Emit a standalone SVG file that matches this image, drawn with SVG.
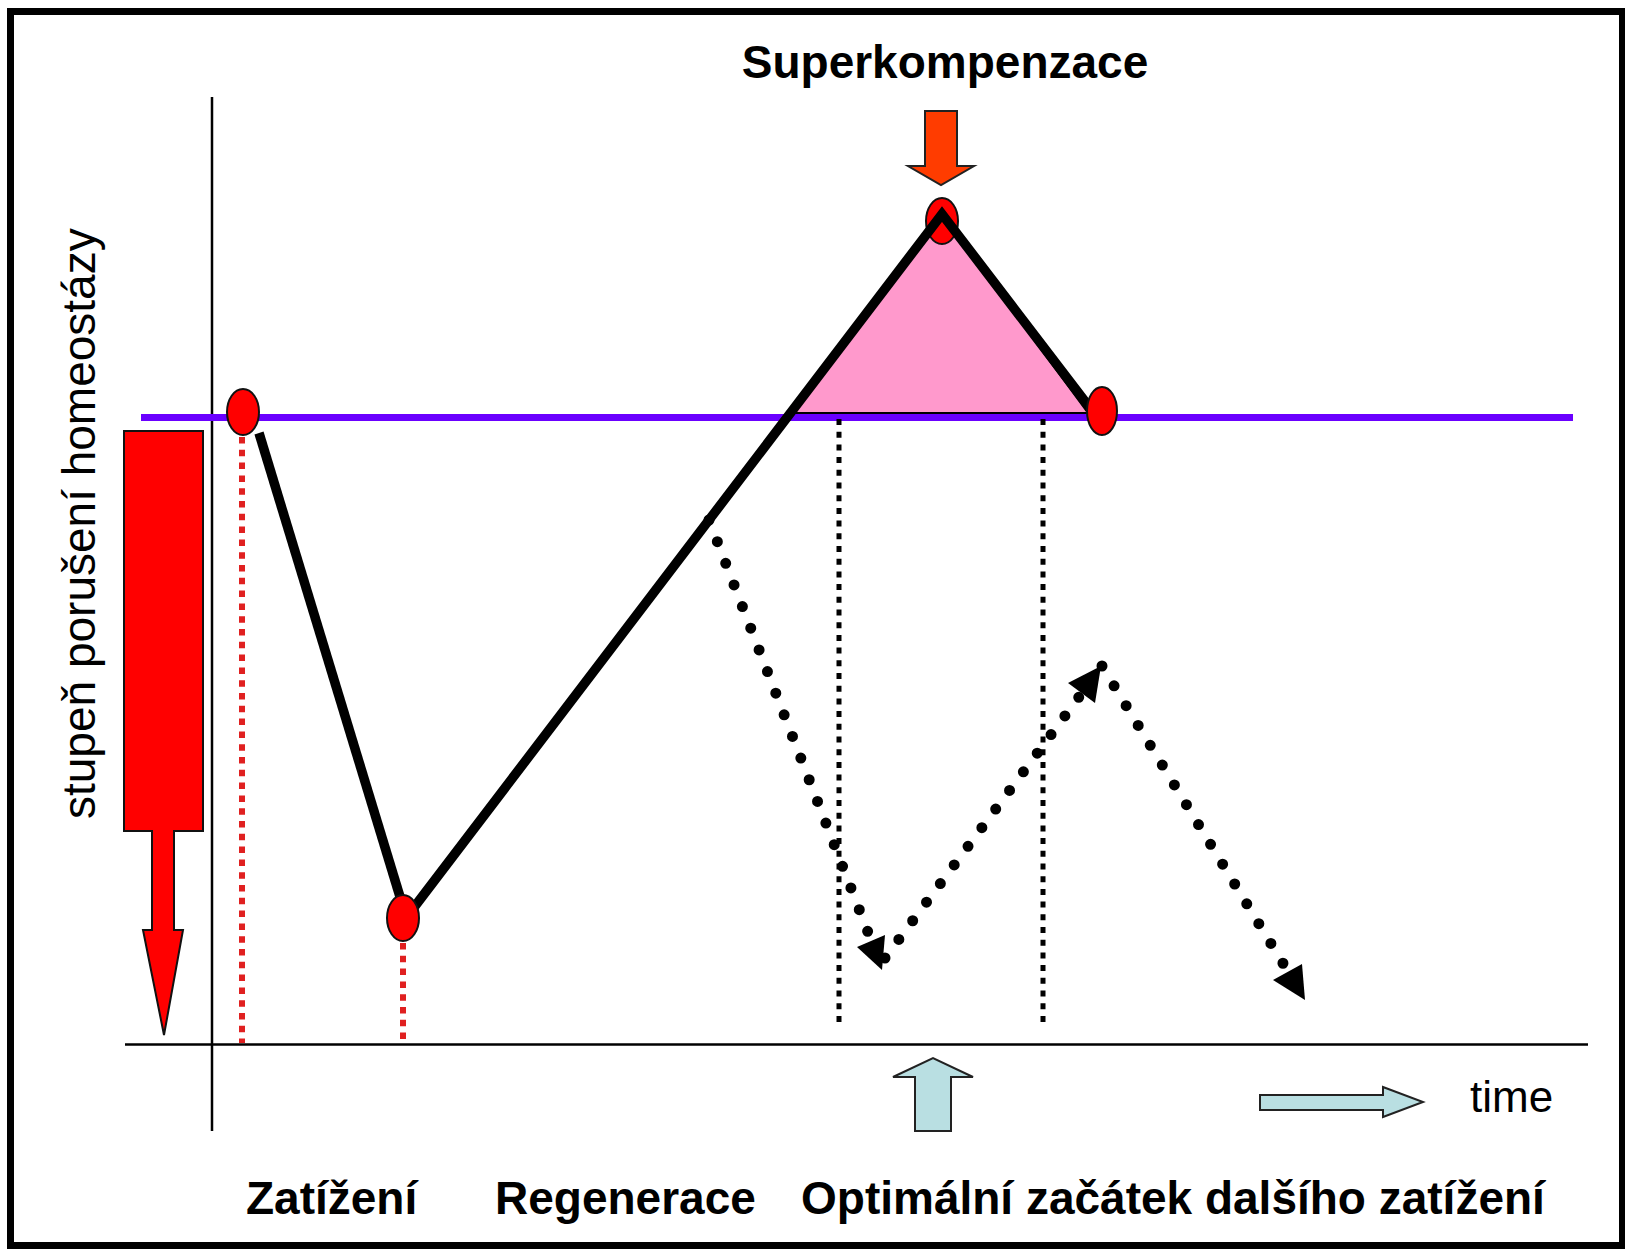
<svg xmlns="http://www.w3.org/2000/svg" width="1625" height="1249" viewBox="0 0 1625 1249">
<defs>
<style>
.lbl{font-family:"Liberation Sans",Arial,sans-serif;font-weight:bold;font-size:46px;fill:#000}
.reg{font-family:"Liberation Sans",Arial,sans-serif;font-size:46px;fill:#000}
.dot{fill:#ff0000;stroke:#111;stroke-width:2}
.thick{stroke:#000;stroke-width:9.5;fill:none}
.reddash{stroke:#e02020;stroke-width:6;stroke-dasharray:6.5 6.3;fill:none}
.blkdash{stroke:#000;stroke-width:5;stroke-dasharray:6 6.7;fill:none}
.dots{stroke:#000;stroke-width:11;stroke-linecap:round;stroke-dasharray:0 23.2;fill:none}
.cyan{fill:#b9dfe2;stroke:#222;stroke-width:2}
</style>
</defs>
<rect x="0" y="0" width="1625" height="1249" fill="#fff"/>
<rect id="frame" x="10.5" y="11.5" width="1612" height="1234" fill="none" stroke="#000" stroke-width="7"/>

<g id="axes" stroke="#000" stroke-width="2.5">
<line x1="212" y1="97" x2="212" y2="1131"/>
<line x1="125" y1="1044.5" x2="1588" y2="1044.5"/>
</g>

<g id="baseline-level">
<line x1="141" y1="417.5" x2="1573" y2="417.5" stroke="#6a00ff" stroke-width="7"/>
</g>

<g id="supercompensation-triangle">
<polygon points="942,215 793,413 1088,413" fill="#ff99cc" stroke="#000" stroke-width="2"/>
</g>

<g id="guides">
<line class="reddash" x1="242" y1="437" x2="242" y2="1043"/>
<line class="reddash" x1="403" y1="943" x2="403" y2="1040"/>
<line class="blkdash" x1="839" y1="419" x2="839" y2="1028"/>
<line class="blkdash" x1="1043" y1="419" x2="1043" y2="1028"/>
</g>

<g id="node-peak"><ellipse class="dot" cx="942" cy="221" rx="16" ry="23"/></g>

<g id="connectors">
<line class="thick" x1="259" y1="433" x2="401" y2="900"/>
<polyline class="thick" points="412,910 942,214 1090,408" stroke-linejoin="miter"/>
<line class="dots" x1="709" y1="520" x2="876" y2="953"/>
<line class="dots" x1="885" y1="958" x2="1102" y2="666"/>
<line class="dots" x1="1102" y1="666" x2="1284" y2="965"/>
<polygon points="857,947 885,935 882,970" fill="#000"/>
<polygon points="1068,683 1101,666 1095,703" fill="#000"/>
<polygon points="1273,980 1302,964 1305,1000" fill="#000"/>
</g>

<g id="node-start"><ellipse class="dot" cx="243" cy="412" rx="16" ry="23"/></g>
<g id="node-low"><ellipse class="dot" cx="403" cy="918" rx="16" ry="23"/></g>
<g id="node-end"><ellipse class="dot" cx="1102" cy="411" rx="15" ry="24"/></g>

<g id="load-arrow">
<path d="M124,431 H203 V831 H174 V930 H183 L164,1035 L143,930 H152 V831 H124 Z" fill="#ff0000" stroke="#111" stroke-width="2"/>
</g>

<g id="super-arrow">
<path d="M925,111 H957 V166 H974 L941,185 L908,166 H925 Z" fill="#ff3c00" stroke="#222" stroke-width="2"/>
</g>

<g id="optimal-arrow">
<path class="cyan" d="M915,1131 V1077 H893 L933,1058 L973,1077 H951 V1131 Z"/>
</g>

<g id="time-arrow">
<path class="cyan" d="M1260,1095 H1383 V1087 L1423,1102 L1383,1117 V1110 H1260 Z"/>
<text class="reg" x="1470" y="1112" style="font-size:44px">time</text>
</g>

<g id="labels">
<text class="lbl" x="945" y="78" text-anchor="middle">Superkompenzace</text>
<text class="lbl" x="246" y="1214">Zatížení</text>
<text class="lbl" x="495" y="1214">Regenerace</text>
<text class="lbl" x="801" y="1214">Optimální začátek dalšího zatížení</text>
<text class="reg" transform="translate(95,819) rotate(-90)" x="0" y="0">stupeň porušení homeostázy</text>
</g>
</svg>
